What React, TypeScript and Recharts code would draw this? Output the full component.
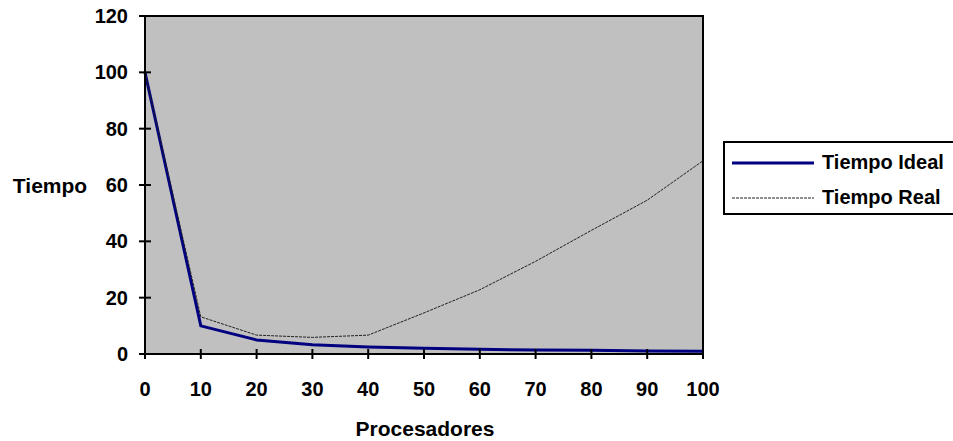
import React from 'react';
import {
  LineChart,
  Line,
  XAxis,
  YAxis,
  CartesianGrid,
  ReferenceArea,
  Legend,
} from 'recharts';

const procesadores = [0, 10, 20, 30, 40, 50, 60, 70, 80, 90, 100];
const tiempoIdeal = [100, 10, 5, 3.3, 2.5, 2, 1.7, 1.4, 1.3, 1.1, 1];
const tiempoReal = [100, 13.2, 6.7, 5.9, 6.7, 14.6, 22.8, 32.9, 43.9, 54.6, 68.6];
const xTicks = [0, 10, 20, 30, 40, 50, 60, 70, 80, 90, 100];
const yTicks = [0, 20, 40, 60, 80, 100, 120];

const data = procesadores.map((p, i) => ({
  p,
  ideal: tiempoIdeal[i],
  real: tiempoReal[i],
}));

const FONT = '"Liberation Sans", Arial, sans-serif';

const XTick = (props: any) => {
  const { x, y, payload } = props;
  return (
    <g>
      <line x1={x} x2={x} y1={y - 10} y2={y} stroke="#000" strokeWidth={2} />
      <text x={x} y={y + 37} textAnchor="middle" fontFamily={FONT} fontWeight="bold" fontSize={20} fill="#000">
        {payload.value}
      </text>
    </g>
  );
};

const YTick = (props: any) => {
  const { x, y, payload } = props;
  return (
    <g>
      <line x1={x + 12} x2={x + 24} y1={y} y2={y} stroke="#000" strokeWidth={2} />
      <text x={x + 1} y={y} dy={7} textAnchor="end" fontFamily={FONT} fontWeight="bold" fontSize={20} fill="#000">
        {payload.value}
      </text>
    </g>
  );
};

const LegendBox = (props: any) => {
  const { payload } = props;
  return (
    <div
      style={{
        border: '2px solid #000',
        borderRight: 'none',
        background: '#fff',
        height: 74,
        width: 240,
        boxSizing: 'border-box',
        paddingTop: 2,
      }}
    >
      {(payload || []).map((entry: any) => (
        <div key={entry.value} style={{ display: 'flex', alignItems: 'center', height: 35 }}>
          <svg width={96} height={10} style={{ marginLeft: 7 }}>
            <line
              x1={0}
              x2={82}
              y1={5}
              y2={5}
              stroke={entry.color}
              strokeWidth={entry.payload?.strokeWidth ?? 1}
              strokeDasharray={entry.payload?.strokeDasharray}
            />
          </svg>
          <span style={{ fontFamily: FONT, fontWeight: 'bold', fontSize: 20, color: '#000', marginLeft: -6 }}>
            {entry.value}
          </span>
        </div>
      ))}
    </div>
  );
};

export default function App() {
  return (
    <div style={{ position: 'absolute', left: 0, top: 0, background: '#fff' }}>
      <LineChart
        width={953}
        height={441}
        data={data}
        margin={{ top: 16, right: 250, left: 0, bottom: 0 }}
      >
        <CartesianGrid fill="#C0C0C0" horizontal={false} vertical={false} />
        <ReferenceArea x1={0} x2={100} y1={0} y2={120} fill="none" stroke="#000" strokeWidth={2} ifOverflow="visible" />
        <XAxis
          dataKey="p"
          type="number"
          domain={[0, 100]}
          ticks={xTicks}
          height={87}
          tickSize={5}
          tickMargin={0}
          tickLine={false}
          axisLine={{ stroke: '#000', strokeWidth: 2 }}
          tick={<XTick />}
          label={() => (
            <text x={425} y={436} textAnchor="middle" fontFamily={FONT} fontWeight="bold" fontSize={21} fill="#000">
              Procesadores
            </text>
          )}
        />
        <YAxis
          type="number"
          domain={[0, 120]}
          ticks={yTicks}
          width={145}
          tickSize={6}
          tickMargin={12}
          tickLine={false}
          axisLine={{ stroke: '#000', strokeWidth: 2 }}
          tick={<YTick />}
          label={() => (
            <text x={50} y={193} textAnchor="middle" fontFamily={FONT} fontWeight="bold" fontSize={21} fill="#000">
              Tiempo
            </text>
          )}
        />
        <Legend
          layout="vertical"
          align="center"
          verticalAlign="middle"
          content={<LegendBox />}
          wrapperStyle={{ position: 'absolute', left: 723, top: 141, width: 240 }}
        />
        <Line
          type="linear"
          dataKey="ideal"
          name="Tiempo Ideal"
          stroke="#000080"
          strokeWidth={3}
          dot={false}
          isAnimationActive={false}
        />
        <Line
          type="linear"
          dataKey="real"
          name="Tiempo Real"
          stroke="#222"
          strokeWidth={1}
          strokeDasharray="3 1"
          dot={false}
          isAnimationActive={false}
        />
      </LineChart>
    </div>
  );
}
